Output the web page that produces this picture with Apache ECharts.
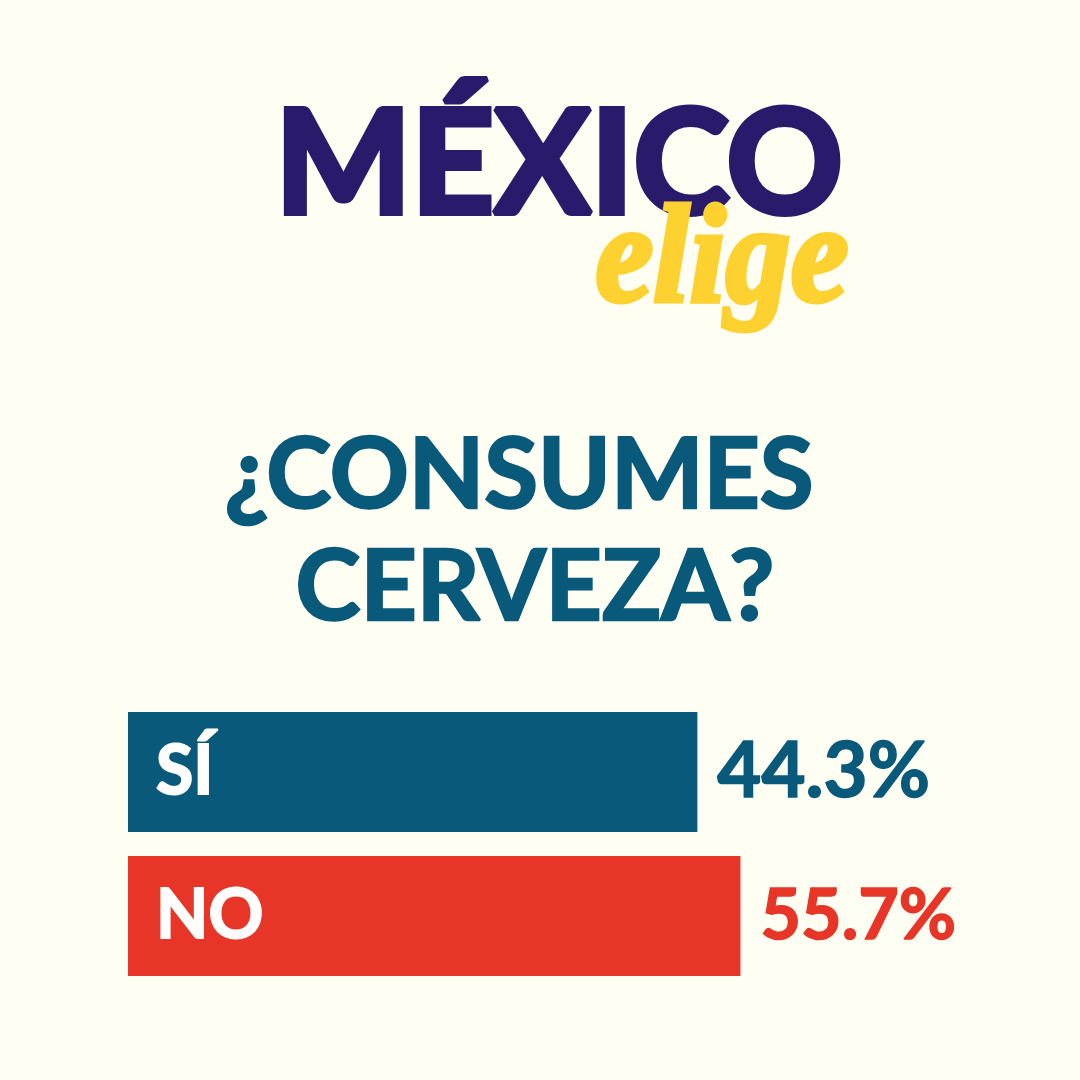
<!DOCTYPE html>
<html style="height: 100%; width: 100%;">
<head>
    <meta charset="utf-8">
    <title>México Elige</title>
    <script src="https://cdn.jsdelivr.net/npm/echarts@6/dist/echarts.min.js"></script>
    <style>
        body, html { margin: 0; padding: 0; width: 100%; height: 100%; background: #fffef2; }
        #main { width: 1080px; height: 1080px; }
    </style>
</head>
<body>
<div id="main"></div>
<script type="text/javascript">
    var categories = ['SÍ', 'NO'];
    var values = [44.3, 55.7];
    // the bars in the picture are not proportional to the numbers: they have a common extra length
    var barOffset = [106.4, 106.4];
    var barColors = ['#08597a', '#e73527'];
    var labelSizes = [76, 70];

    var chart = echarts.init(document.getElementById('main'));

    function heading(text, x, y, size, color, lineWidth) {
        return {
            type: 'text', x: x, y: y, z: 10,
            style: {
                text: text, fill: color, stroke: color, lineWidth: lineWidth,
                align: 'center', verticalAlign: 'middle',
                font: 'bold ' + size + 'px Lato'
            }
        };
    }

    var option = {
        backgroundColor: '#fffef2',
        animation: false,
        // width picked so the join of the two stacked pieces lands on a whole pixel (no seam)
        grid: { left: 128, top: 700, width: 779.82, height: 288 },
        xAxis: { type: 'value', min: 0, max: 206.4, show: false },
        yAxis: {
            type: 'category', data: categories, inverse: true, z: 5,
            axisLine: { show: false }, axisTick: { show: false },
            axisLabel: {
                inside: true, margin: 28, color: '#fff',
                fontFamily: 'Lato', fontWeight: 'bold', fontSize: 68,
                textBorderColor: '#fff', textBorderWidth: 2
            }
        },
        series: [{
            type: 'bar',
            stack: 'bar',
            barWidth: 120,
            data: barOffset.map(function (v, i) {
                return { value: v, itemStyle: { color: barColors[i] } };
            })
        }, {
            type: 'bar',
            stack: 'bar',
            barWidth: 120,
            data: values.map(function (v, i) {
                return {
                    value: v,
                    itemStyle: { color: barColors[i] },
                    label: {
                        color: barColors[i], fontSize: labelSizes[i],
                        textBorderColor: barColors[i]
                    }
                };
            }),
            label: {
                show: true, position: 'right', distance: 20,
                fontFamily: 'Lato', fontWeight: 'bold',
                textBorderWidth: 1.5,
                formatter: '{c}%'
            }
        }],
        graphic: [
            heading('MÉXICO', 559, 167, 144, '#2a1a6b', 6),
            {
                type: 'text', x: 722, y: 265, z: 11, scaleX: 0.93,
                style: {
                    text: 'elige', fill: '#fdd12f', stroke: '#fdd12f', lineWidth: 5,
                    lineJoin: 'round', align: 'center', verticalAlign: 'middle',
                    font: 'italic bold 140px "Liberation Serif"'
                }
            },
            heading('¿CONSUMES', 519, 476, 98, '#08597a', 2.5),
            heading('CERVEZA?', 535, 588, 98, '#08597a', 2.5)
        ]
    };

    chart.setOption(option);
</script>
</body>
</html>
